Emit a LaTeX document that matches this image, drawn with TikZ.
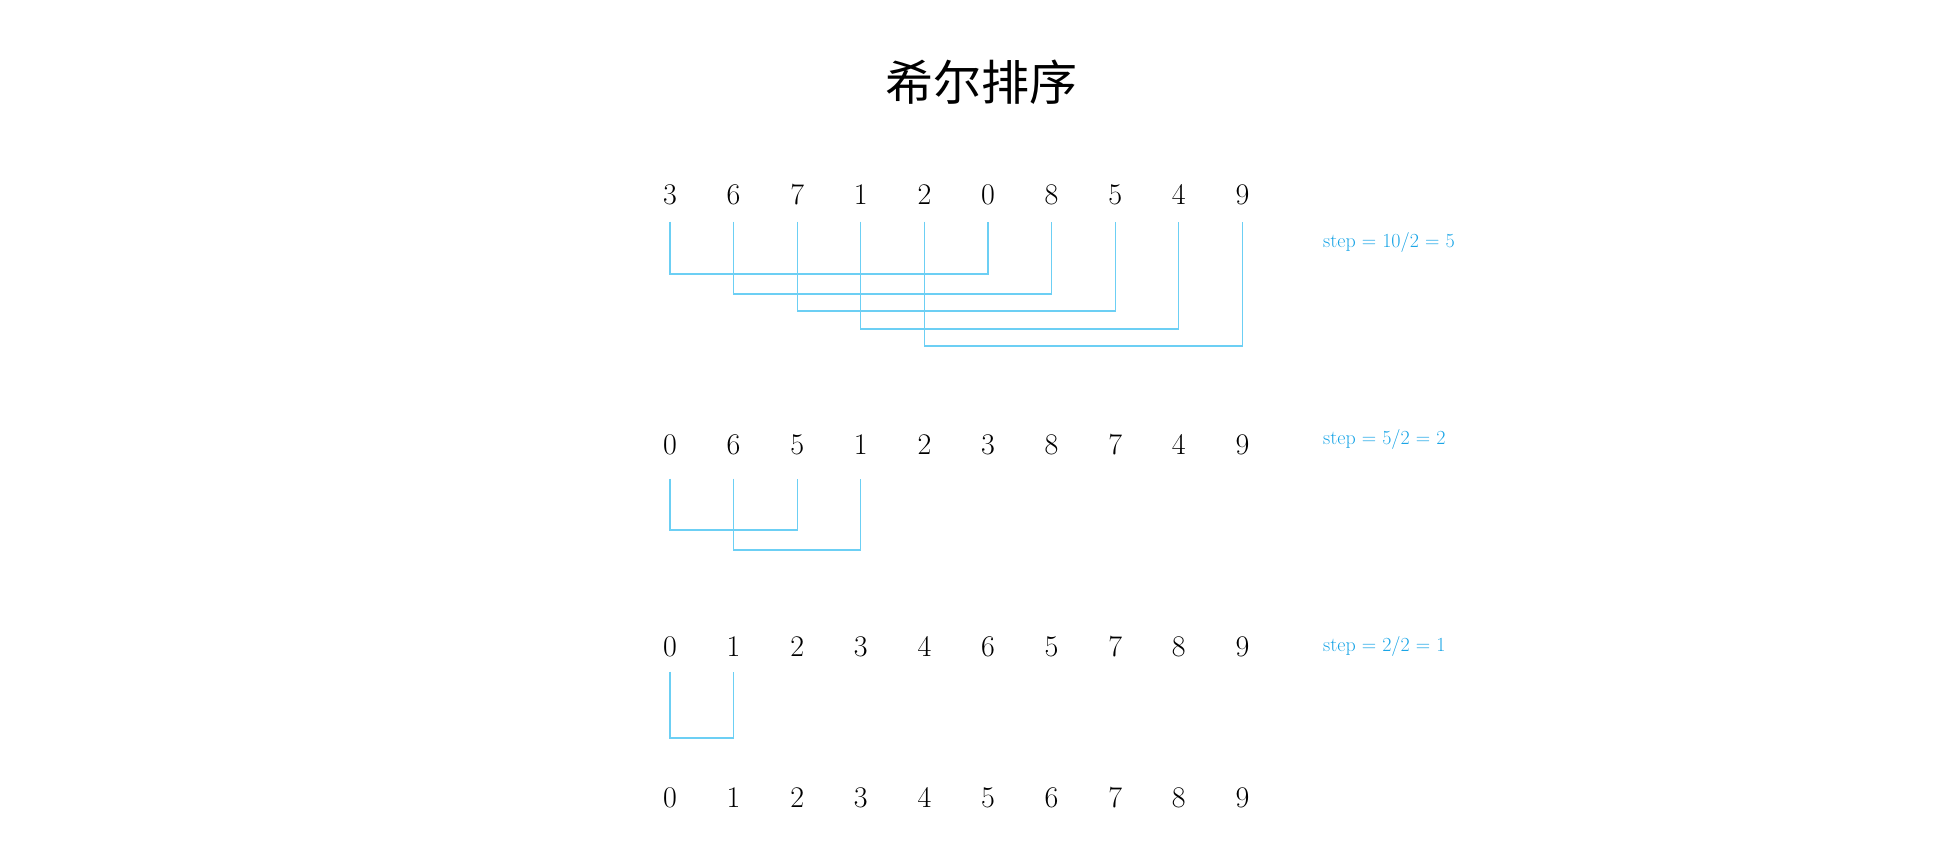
\documentclass[tikz,border=0pt]{standalone}
\usepackage{fontspec}
\newfontfamily\cjk{Noto Sans CJK SC}
\usepackage{tikz}
\usetikzlibrary{calc}
\definecolor{linkblue}{HTML}{6CCFF4}
\definecolor{labelblue}{HTML}{1AA5E6}
\tikzset{
  digitNode/.style={inner sep=0pt, text height=21pt, text depth=0pt, font=\fontsize{30}{30}\selectfont},
  stepLabel/.style={anchor=west, inner sep=0pt, text=labelblue, font=\fontsize{20}{20}\selectfont},
  titleNode/.style={inner sep=0pt, font=\cjk\fontsize{48}{48}\selectfont},
  pairLink/.style={draw=linkblue, line width=1.3pt}
}

\begin{document}
\begin{tikzpicture}[x=1pt,y=-1pt]
  \useasboundingbox (0,0) rectangle (1934,861);

  \node[titleNode] (title) at (981,82) {希尔排序};

  % the four rows of numbers
  \foreach \d [count=\i from 0] in {3,6,7,1,2,0,8,5,4,9}
    \node[digitNode] (a\i) at ({670+63.6*\i},194) {\d};
  \foreach \d [count=\i from 0] in {0,6,5,1,2,3,8,7,4,9}
    \node[digitNode] (b\i) at ({670+63.6*\i},444) {\d};
  \foreach \d [count=\i from 0] in {0,1,2,3,4,6,5,7,8,9}
    \node[digitNode] (c\i) at ({670+63.6*\i},646) {\d};
  \foreach \d [count=\i from 0] in {0,1,2,3,4,5,6,7,8,9}
    \node[digitNode] (d\i) at ({670+63.6*\i},797) {\d};

  \node[stepLabel] (s1) at (1323,242) {step = 10/2 = 5};
  \node[stepLabel] (s2) at (1323,439) {step = 5/2 = 2};
  \node[stepLabel] (s3) at (1323,646) {step = 2/2 = 1};

  % step 5
  \foreach \i/\j/\h in {0/5/274, 1/6/294, 2/7/311, 3/8/329, 4/9/346}
    \draw[pairLink] ([yshift=-17pt]a\i.south) -- (a\i.south |- 0,\h) -| ([yshift=-17pt]a\j.south);
  % step 2
  \foreach \i/\j/\h in {0/2/530, 1/3/550}
    \draw[pairLink] ([yshift=-24pt]b\i.south) -- (b\i.south |- 0,\h) -| ([yshift=-24pt]b\j.south);
  % step 1
  \draw[pairLink] ([yshift=-15pt]c0.south) -- (c0.south |- 0,738) -| ([yshift=-15pt]c1.south);
\end{tikzpicture}
\end{document}
